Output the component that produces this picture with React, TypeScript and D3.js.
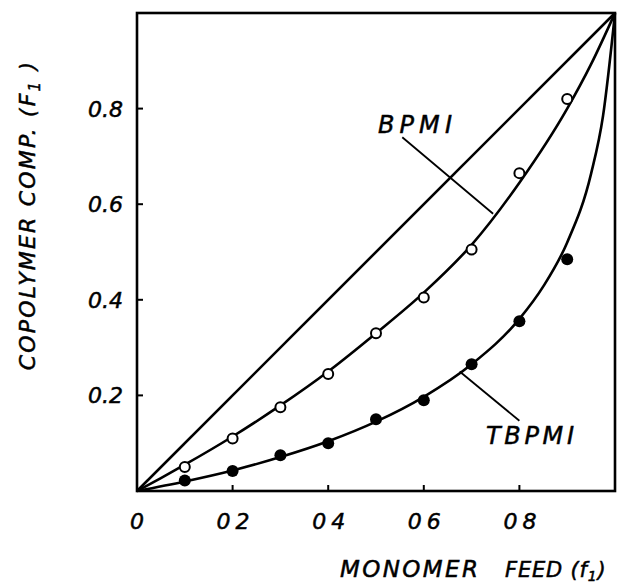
import React from "react";
import * as d3 from "d3";

const bpmiF = [0.1, 0.2, 0.3, 0.4, 0.5, 0.6, 0.7, 0.8, 0.9];
const bpmiPoints = [0.05, 0.11, 0.175, 0.245, 0.33, 0.405, 0.505, 0.665, 0.82];
const tbpmiF = [0.1, 0.2, 0.3, 0.4, 0.5, 0.6, 0.7, 0.8, 0.9];
const tbpmiPoints = [0.022, 0.042, 0.075, 0.1, 0.15, 0.19, 0.265, 0.355, 0.485];

const bpmiCurveX = [0, 0.05, 0.1, 0.2, 0.3, 0.4, 0.5, 0.6, 0.7, 0.8, 0.9, 0.95, 1];
const bpmiCurveY = [0, 0.027, 0.055, 0.114, 0.179, 0.25, 0.33, 0.415, 0.515, 0.645, 0.8, 0.893, 1];
const tbpmiCurveX = [0, 0.1, 0.2, 0.3, 0.4, 0.5, 0.6, 0.7, 0.8, 0.85, 0.9, 0.95, 0.975, 1];
const tbpmiCurveY = [0, 0.02, 0.043, 0.071, 0.104, 0.145, 0.197, 0.265, 0.36, 0.428, 0.52, 0.664, 0.785, 1];

const xTicks = [0.2, 0.4, 0.6, 0.8];
const xTickLabels = ["0", "02", "04", "06", "08"];
const xLabelValues = [0, 0.2, 0.4, 0.6, 0.8];
const yTicks = [0.2, 0.4, 0.6, 0.8];
const yTickLabels = ["0.2", "0.4", "0.6", "0.8"];

const W = 628;
const H = 588;
const left = 137, right = 615, top = 13, bottom = 491;

export default function App() {
  const x = d3.scaleLinear().domain([0, 1]).range([left, right]);
  const y = d3.scaleLinear().domain([0, 1]).range([bottom, top]);
  const line = d3
    .line<[number, number]>()
    .x((d) => x(d[0]))
    .y((d) => y(d[1]))
    .curve(d3.curveMonotoneX);
  const bpmiCurve = bpmiCurveX.map((v, i) => [v, bpmiCurveY[i]] as [number, number]);
  const tbpmiCurve = tbpmiCurveX.map((v, i) => [v, tbpmiCurveY[i]] as [number, number]);
  const font = "'DejaVu Sans', sans-serif";
  const sw = 2.6;
  const ts = { stroke: "#000", strokeWidth: 0.5 };
  return (
    <svg
      width={W}
      height={H}
      style={{ position: "absolute", left: 0, top: 0, background: "#fff" }}
      fontFamily={font}
      fontStyle="italic"
    >
      <rect x={left} y={top} width={right - left} height={bottom - top} fill="none" stroke="#000" strokeWidth={sw} />
      {xTicks.map((t) => (
        <line key={"xt" + t} x1={x(t)} x2={x(t)} y1={bottom} y2={bottom - 6} stroke="#000" strokeWidth={2} />
      ))}
      {yTicks.map((t) => (
        <line key={"yt" + t} x1={left} x2={left + 6} y1={y(t)} y2={y(t)} stroke="#000" strokeWidth={2} />
      ))}
      {xLabelValues.map((v, i) => (
        <text
          key={"xl" + i}
          x={x(v) - (xTickLabels[i].length > 1 ? 16 : 7)}
          y={529}
          fontSize={22}
          textLength={xTickLabels[i].length > 1 ? 33 : undefined}
          lengthAdjust="spacing"
          {...ts}
        >
          {xTickLabels[i]}
        </text>
      ))}
      {yTicks.map((v, i) => (
        <text key={"yl" + i} x={88} y={y(v) + 8} fontSize={22} textLength={35} lengthAdjust="spacing" {...ts}>
          {yTickLabels[i]}
        </text>
      ))}
      <line x1={x(0)} y1={y(0)} x2={x(1)} y2={y(1)} stroke="#000" strokeWidth={sw} />
      <path d={line(bpmiCurve) || ""} fill="none" stroke="#000" strokeWidth={sw} />
      <path d={line(tbpmiCurve) || ""} fill="none" stroke="#000" strokeWidth={sw} />
      {bpmiF.map((f, i) => (
        <circle key={"bp" + i} cx={x(f)} cy={y(bpmiPoints[i])} r={5} fill="#fff" stroke="#000" strokeWidth={2} />
      ))}
      {tbpmiF.map((f, i) => (
        <circle key={"tp" + i} cx={x(f)} cy={y(tbpmiPoints[i])} r={6} fill="#000" />
      ))}
      <line x1={x(0.555)} y1={y(0.74)} x2={x(0.745)} y2={y(0.58)} stroke="#000" strokeWidth={1.8} />
      <line x1={x(0.675)} y1={y(0.25)} x2={x(0.8)} y2={y(0.147)} stroke="#000" strokeWidth={1.8} />
      <text x={378} y={133} fontSize={24} textLength={74} lengthAdjust="spacing" {...ts}>BPMI</text>
      <text x={486} y={444} fontSize={24} textLength={88} lengthAdjust="spacing" {...ts}>TBPMI</text>
      <text x={340} y={577} fontSize={23} textLength={138} lengthAdjust="spacing" {...ts}>
        MONOMER
      </text>
      <text x={505} y={577} fontSize={21} letterSpacing={0.8} {...ts}>
        FEED (f<tspan fontSize={14} dy={4}>1</tspan><tspan dy={-4}>)</tspan>
      </text>
      <text
        transform={`translate(35, 215) rotate(-90)`}
        textAnchor="middle"
        fontSize={22}
        letterSpacing={2.2}
        {...ts}
      >
        COPOLYMER  COMP.  (F<tspan fontSize={15} dy={5}>1</tspan><tspan dy={-5}> )</tspan>
      </text>
    </svg>
  );
}
